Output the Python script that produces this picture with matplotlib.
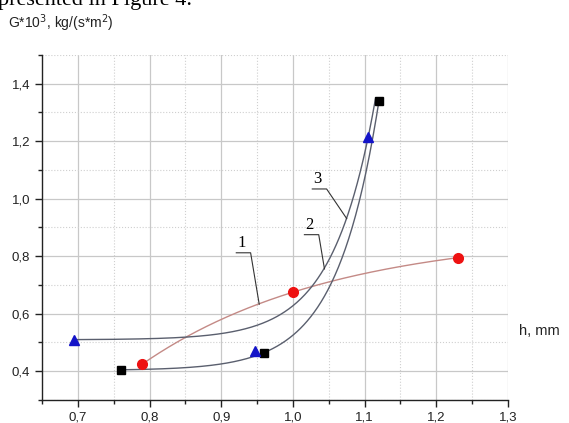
import numpy as np
import matplotlib
matplotlib.use("Agg")
import matplotlib.pyplot as plt
from matplotlib.ticker import MultipleLocator, FuncFormatter

plt.rcParams['font.family'] = ['Liberation Sans', 'DejaVu Sans']

# data
h1 = [0.79, 1.00, 1.23]
g1 = [0.425, 0.675, 0.795]
h2 = [0.76, 0.96, 1.12]
g2 = [0.405, 0.465, 1.34]
h3 = [0.695, 0.947, 1.105]
g3 = [0.51, 0.47, 1.215]

curve_labels = ["1", "2", "3"]
label_pos = [(0.928, 0.845), (1.023, 0.908), (1.034, 1.067)]
label_tip = [(0.953, 0.633), (1.044, 0.756), (1.075, 0.931)]


def exp_fit(x, y, c_fixed=None, w=None, cmax=25):
    # y = a + b*exp(c*x), weighted least squares, c on a grid
    x = np.asarray(x)
    y = np.asarray(y)
    w = np.ones_like(x) if w is None else np.asarray(w, float)
    grid = [c_fixed] if c_fixed else np.linspace(-cmax, cmax, 5001)
    best = None
    for c in grid:
        if abs(c) < 1e-6:
            continue
        A = np.column_stack([np.ones_like(x), np.exp(c * x)])
        coef = np.linalg.lstsq(A * w[:, None], y * w, rcond=None)[0]
        r = np.sum(w * (A @ coef - y) ** 2)
        if best is None or r < best[0]:
            best = (r, coef[0], coef[1], c)
    return best[1:]


def draw_curve(ax, x, y, color, x_end=None, **kw):
    a, b, c = exp_fit(x, y, **kw)
    xs = np.linspace(min(x), x_end if x_end else max(x), 300)
    ax.plot(xs, a + b * np.exp(c * xs), color=color, lw=1.0, zorder=2)


fig = plt.figure(figsize=(5.69, 4.23), dpi=100)
ax = fig.add_axes([0.0738, 0.0544, 0.8190, 0.8156])

draw_curve(ax, h1, g1, "#c48a86")
draw_curve(ax, h2, g2, "#5a5f6e")
# curve 3 is drawn through the end points only
draw_curve(ax, h3, g3, "#5a5f6e", x_end=1.115, c_fixed=17.0, w=[1, 0, 1])

ax.plot(h1, g1, "o", color="#ee1111", ms=7, mec="#ee1111", zorder=3, clip_on=False)
ax.plot(h2, g2, "s", color="black", ms=6, zorder=3, clip_on=False)
ax.plot(h3, g3, "^", color="#1414c8", ms=7.5, zorder=3, clip_on=False)

for lab, (tx, ty), (ex, ey) in zip(curve_labels, label_pos, label_tip):
    ax.text(tx, ty, lab, fontsize=12, family="Liberation Serif", ha="center", va="center")
    ax.plot([tx - 0.007, tx + 0.013, ex], [ty - 0.033, ty - 0.033, ey],
            color="#333333", lw=0.8, zorder=2)

ax.set_xlim(0.65, 1.3)
ax.set_ylim(0.3, 1.5)
ax.xaxis.set_major_locator(MultipleLocator(0.1))
ax.xaxis.set_minor_locator(MultipleLocator(0.05))
ax.yaxis.set_major_locator(MultipleLocator(0.2))
ax.yaxis.set_minor_locator(MultipleLocator(0.1))
comma = FuncFormatter(lambda v, p: f"{v:.1f}".replace(".", ","))
ax.xaxis.set_major_formatter(comma)
ax.yaxis.set_major_formatter(comma)

ax.grid(which="major", color="#c8c8c8", lw=0.9)
ax.grid(which="minor", color="#cfcfcf", lw=0.8, ls=":")
ax.set_axisbelow(True)

for s in ["top", "right"]:
    ax.spines[s].set_visible(False)
for s in ["left", "bottom"]:
    ax.spines[s].set_color("#222222")
    ax.spines[s].set_linewidth(1.0)
ax.tick_params(which="major", direction="out", length=5, width=1, labelsize=9.5, colors="#222222")
ax.tick_params(which="minor", direction="out", length=3, width=1, colors="#222222")

fig.text(0.014, 0.945, "G*10$^3$, kg/(s*m$^2$)", fontsize=10, color="#222222", va="center")
fig.text(0.912, 0.217, "h, mm", fontsize=10.5, color="#222222", va="center")
# page text above the figure, cut by the top edge as in the scan
fig.text(-0.004, 1 - 5 / 423, "presented in Figure 4.", family="Liberation Serif",
         fontsize=16, va="baseline")

fig.savefig("out.png", dpi=100)
